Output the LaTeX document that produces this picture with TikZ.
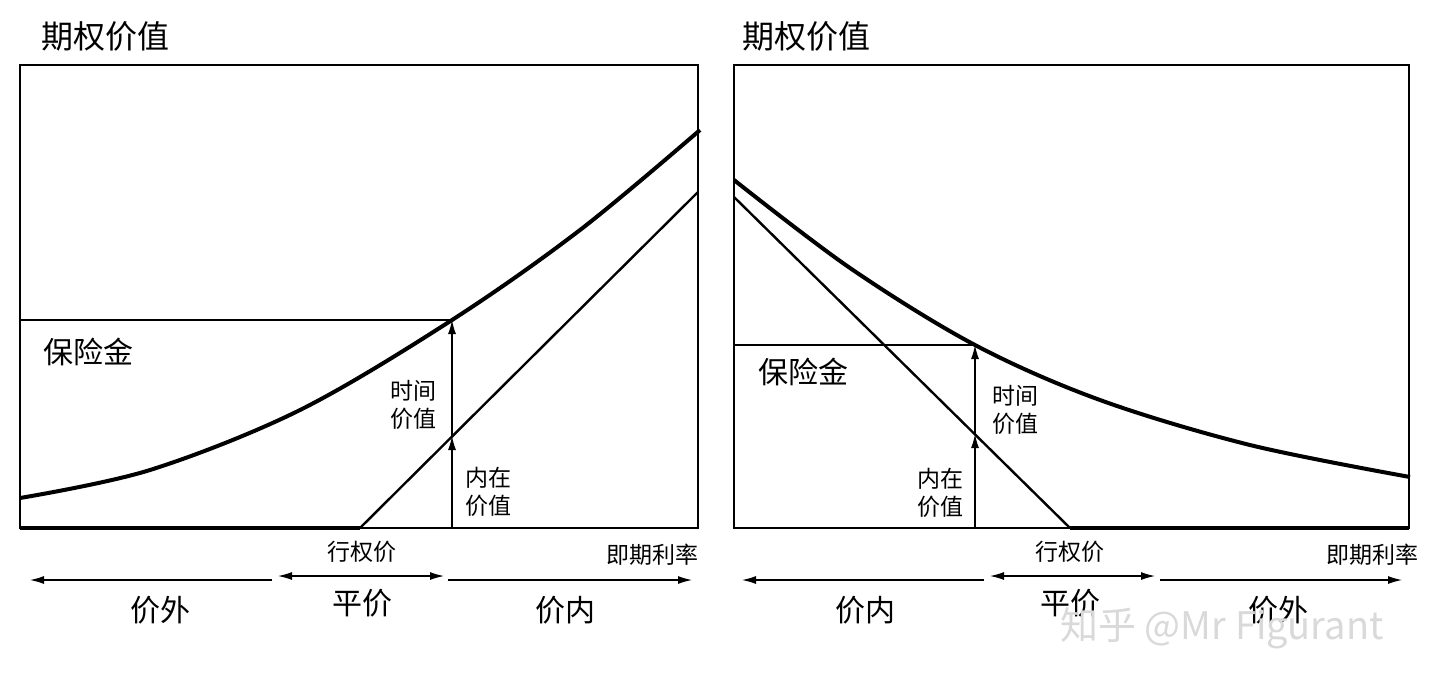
\documentclass[tikz,border=0pt]{standalone}
\usepackage{fontspec}
\setmainfont{Noto Sans CJK SC}
\usetikzlibrary{arrows.meta}
\begin{document}
\begin{tikzpicture}[x=0.5pt,y=-0.5pt,
  thin line/.style={line width=0.6pt},
  thick curve/.style={line width=2pt},
  varrow/.style={line width=0.6pt,-{Latex[length=7pt,width=4pt]}},
  harrow/.style={line width=0.6pt,-{Latex[length=7pt,width=4pt]}},
  darrow/.style={line width=0.6pt,{Latex[length=7pt,width=4pt]}-{Latex[length=7pt,width=4pt]}},
  title/.style={font=\fontsize{16pt}{18pt}\selectfont},
  big/.style={font=\fontsize{15pt}{17pt}\selectfont},
  small/.style={font=\fontsize{11.5pt}{14pt}\selectfont,align=center}]
\useasboundingbox (0,0) rectangle (1440,693);
% ---------- left panel ----------
\node[title] (t1) at (105,36) {期权价值};
\draw[thin line] (20,65) rectangle (698,528);
\coordinate (ls) at (360,528);
\coordinate (le) at (698,192);
\draw[thick curve] (20,528) -- (ls);
\draw[line width=1.2pt] (ls) -- (le);
\draw[thick curve] plot[smooth,tension=0.55] coordinates {(20,498) (150,470) (300,410) (452,320) (580,230) (700,130)};
\coordinate (lp) at (452,320);
\coordinate (li) at (452,436);
\coordinate (lb) at (452,528);
\draw[thin line] (20,320) -- (lp);
\draw[varrow] (lb) -- (li);
\draw[varrow] (li) -- (lp);
\node[big] (lbx) at (88,352) {保险金};
\node[small] (ltv) at (413,405) {时间\\价值};
\node[small] (liv) at (488,492) {内在\\价值};
\node[small] (lk) at (362,552) {行权价};
\node[small] (lsr) at (652,555) {即期利率};
\draw[harrow] (272,580) -- (30,580);
\draw[darrow] (278,576) -- (444,576);
\draw[harrow] (448,580) -- (692,580);
\node[big] (l1) at (160,610) {价外};
\node[big] (l2) at (362,603) {平价};
\node[big] (l3) at (565,610) {价内};
% ---------- right panel ----------
\node[title] (t2) at (806,36) {期权价值};
\draw[thin line] (734,65) rectangle (1409,528);
\coordinate (rs) at (734,197);
\coordinate (rk) at (1070,528);
\draw[line width=1.2pt] (rs) -- (rk);
\draw[thick curve] (rk) -- (1409,528);
\draw[thick curve] plot[smooth,tension=0.55] coordinates {(734,180) (850,268) (975,345) (1100,400) (1250,445) (1410,477)};
\coordinate (rp) at (975,345);
\coordinate (ri) at (975,434);
\coordinate (rb) at (975,528);
\draw[thin line] (734,345) -- (rp);
\draw[varrow] (rb) -- (ri);
\draw[varrow] (ri) -- (rp);
\node[big] (rbx) at (803,372) {保险金};
\node[small] (rtv) at (1015,410) {时间\\价值};
\node[small] (riv) at (940,493) {内在\\价值};
\node[small] (rkk) at (1070,552) {行权价};
\node[small] (rsr) at (1372,555) {即期利率};
\draw[harrow] (984,580) -- (742,580);
\draw[darrow] (990,576) -- (1155,576);
\draw[harrow] (1160,580) -- (1402,580);
\node[big] (r1) at (865,610) {价内};
\node[big] (r2) at (1070,603) {平价};
\node[big] (r3) at (1278,610) {价外};
\node[font=\fontsize{19pt}{21pt}\selectfont,text=white!70!gray] (wm) at (1222,628) {知乎 @Mr Figurant};
\end{tikzpicture}
\end{document}
